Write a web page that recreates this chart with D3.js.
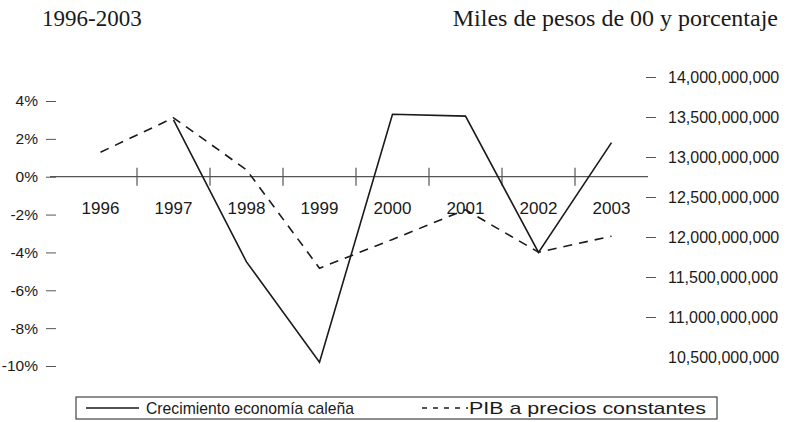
<!DOCTYPE html>
<html>
<head>
<meta charset="utf-8">
<script src="https://cdn.jsdelivr.net/npm/d3@7"></script>
<style>
  body { margin: 0; background: #fff; }
  svg text { fill: #1a1a1a; }
</style>
</head>
<body>
<div id="main"></div>
<script>
const years = ['1996', '1997', '1998', '1999', '2000', '2001', '2002', '2003'];
// crecimiento economía caleña, % (no value for 1996)
const crecimiento = [null, 3.0, -4.5, -9.8, 3.3, 3.2, -4.0, 1.8];
// PIB a precios constantes, miles de pesos de 2000
const pib = [13.06e9, 13.49e9, 12.84e9, 11.61e9, 11.97e9, 12.34e9, 11.81e9, 12.01e9];
const leftTicks = [-10, -8, -6, -4, -2, 0, 2, 4];
const rightTicks = [10.5e9, 11e9, 11.5e9, 12e9, 12.5e9, 13e9, 13.5e9, 14e9];

const width = 801, height = 422;
const sans = 'Liberation Sans, Arial, sans-serif';
const serif = 'Liberation Serif, Times New Roman, serif';
const ink = '#1a1a1a';

const svg = d3.select('#main').append('svg').attr('width', width).attr('height', height);

const x = d3.scaleBand().domain(years).range([64, 648]);
const yL = d3.scaleLinear().domain([-10, 4]).range([366, 101]);
const yR = d3.scaleLinear().domain([10.5e9, 14e9]).range([357, 77]);
const cx = d => x(d) + x.bandwidth() / 2;

// titles
svg.append('text').attr('x', 42).attr('y', 26)
  .style('font-family', serif).style('font-size', '23px').text('1996-2003');
svg.append('text').attr('x', 778).attr('y', 26).attr('text-anchor', 'end')
  .style('font-family', serif).style('font-size', '24px').text('Miles de pesos de 00 y porcentaje');

// left axis
const gL = svg.append('g').attr('transform', 'translate(56,0)')
  .call(d3.axisLeft(yL).tickValues(leftTicks).tickSize(10).tickPadding(8).tickFormat(d => d + '%'));
gL.select('.domain').remove();
gL.selectAll('line').attr('stroke', '#555');
gL.selectAll('text').style('font-family', sans).style('font-size', '15.5px').attr('fill', ink);

// right axis
const gR = svg.append('g').attr('transform', 'translate(646,0)')
  .call(d3.axisRight(yR).tickValues(rightTicks).tickSize(10).tickPadding(12).tickFormat(d3.format(',')));
gR.select('.domain').remove();
gR.selectAll('line').attr('stroke', '#555');
gR.selectAll('.tick').filter(d => d === 10.5e9).select('line').remove();
gR.selectAll('text').style('font-family', sans).style('font-size', '16px').attr('fill', ink);

// zero line with category separators
svg.append('line').attr('x1', 50).attr('x2', x.range()[1])
  .attr('y1', yL(0)).attr('y2', yL(0)).attr('stroke', '#555').attr('stroke-width', 1.2);
svg.selectAll('.sep').data(years.slice(1)).enter().append('line')
  .attr('x1', d => x(d)).attr('x2', d => x(d))
  .attr('y1', yL(0) - 9).attr('y2', yL(0) + 9)
  .attr('stroke', '#555').attr('stroke-width', 1.2);
svg.selectAll('.yr').data(years).enter().append('text')
  .attr('x', d => cx(d)).attr('y', yL(0) + 37).attr('text-anchor', 'middle')
  .style('font-family', sans).style('font-size', '17px').text(d => d);

// series
const solid = d3.line().defined(d => d[1] != null).x(d => cx(d[0])).y(d => yL(d[1]));
svg.append('path').datum(years.map((y, i) => [y, crecimiento[i]]))
  .attr('d', solid).attr('fill', 'none').attr('stroke', ink).attr('stroke-width', 1.6);

const dashed = d3.line().x(d => cx(d[0])).y(d => yR(d[1]));
svg.append('path').datum(years.map((y, i) => [y, pib[i]]))
  .attr('d', dashed).attr('fill', 'none').attr('stroke', ink).attr('stroke-width', 1.6)
  .attr('stroke-dasharray', '9,7');

// legend
const lg = svg.append('g');
lg.append('rect').attr('x', 76).attr('y', 397).attr('width', 641).attr('height', 22)
  .attr('fill', 'none').attr('stroke', '#444').attr('stroke-width', 1.2);
lg.append('line').attr('x1', 86).attr('x2', 139).attr('y1', 408).attr('y2', 408)
  .attr('stroke', ink).attr('stroke-width', 1.4);
lg.append('text').attr('x', 146).attr('y', 414).attr('textLength', 208)
  .attr('lengthAdjust', 'spacingAndGlyphs')
  .style('font-family', sans).style('font-size', '17px').text('Crecimiento economía caleña');
lg.append('line').attr('x1', 422).attr('x2', 468).attr('y1', 408).attr('y2', 408)
  .attr('stroke', ink).attr('stroke-width', 1.4).attr('stroke-dasharray', '5,6');
lg.append('text').attr('x', 469).attr('y', 414).attr('textLength', 237)
  .attr('lengthAdjust', 'spacingAndGlyphs')
  .style('font-family', sans).style('font-size', '17px').text('PIB a precios constantes');
</script>
</body>
</html>
